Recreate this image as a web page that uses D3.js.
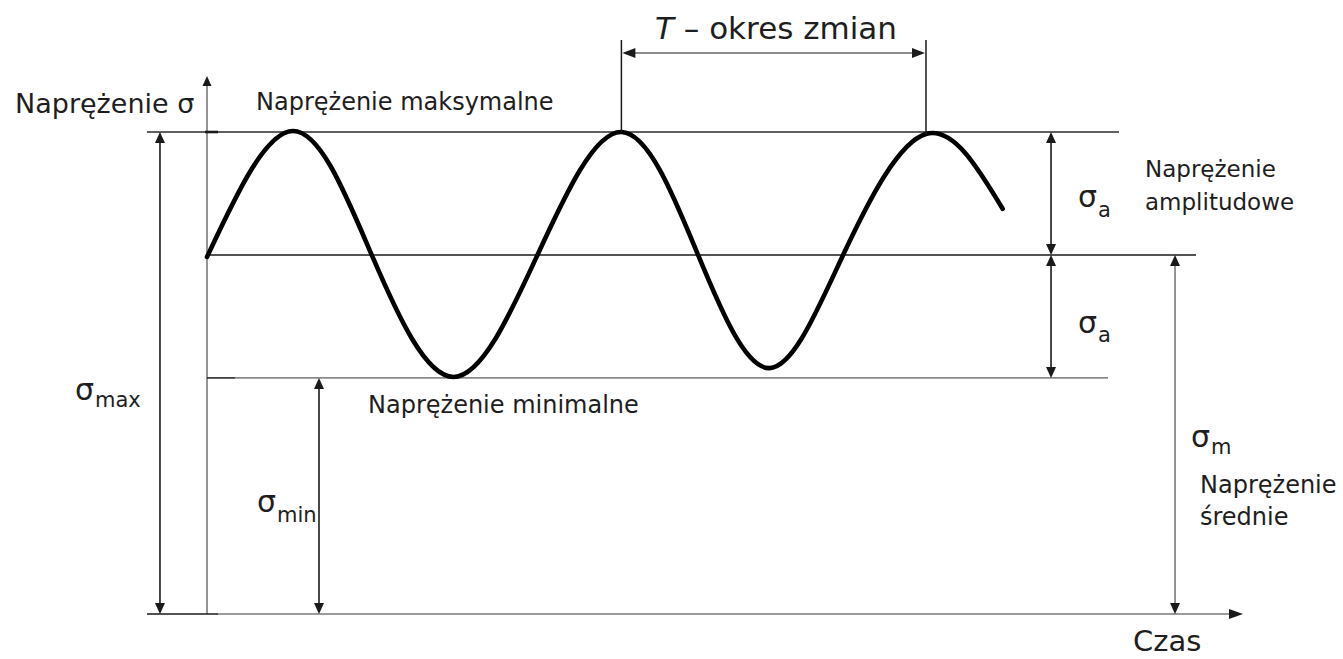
<!DOCTYPE html>
<html>
<head>
<meta charset="utf-8">
<script src="https://cdn.jsdelivr.net/npm/d3@7"></script>
<style>
  html, body { margin: 0; padding: 0; background: #fff; }
  svg { display: block; }
  text { font-family: "DejaVu Sans", Verdana, sans-serif; fill: #1e1e1e; }
</style>
</head>
<body>
<svg id="chart" width="1343" height="659"></svg>
<script>
// Stress levels of the cycle (same units as the stress axis)
const sigmaMax = 98;
const sigmaMean = 73;
const sigmaMin = 48;

// Stress history: time [s] and stress at the start, extremes, mean crossings and end
const curveTime = [0.00, 0.83, 1.59, 2.38, 3.19, 4.00, 4.74, 5.43, 6.14, 6.94, 7.68];
const curveStress = [72.6, 98.2, 73.0, 48.2, 73.0, 98.0, 73.0, 50.0, 73.0, 97.6, 82.4];

// One period, measured between two successive maxima
const periodStart = 4.00;
const periodEnd = 6.94;

// Texts
const axisStressLabel = "Naprężenie σ";
const axisTimeLabel = "Czas";
const periodLabel = " – okres zmian";
const maxLabel = "Naprężenie maksymalne";
const minLabel = "Naprężenie minimalne";
const ampLabel = ["Naprężenie", "amplitudowe"];
const meanLabel = ["Naprężenie", "średnie"];

const svg = d3.select("#chart");
const x = d3.scaleLinear().domain([0, 10]).range([207, 1243]);
const y = d3.scaleLinear().domain([0, sigmaMax]).range([614, 132]);

const BLACK = "#1a1a1a", GRAY = "#7a7a7a";

function hLine(x1, x2, yy, color, w) {
  svg.append("line").attr("x1", x1).attr("x2", x2).attr("y1", yy).attr("y2", yy)
    .attr("stroke", color).attr("stroke-width", w);
}
function vLine(xx, y1, y2, color, w) {
  svg.append("line").attr("x1", xx).attr("x2", xx).attr("y1", y1).attr("y2", y2)
    .attr("stroke", color).attr("stroke-width", w);
}
// filled arrow head, tip at (tx, ty), pointing in direction (dx, dy)
function head(tx, ty, dx, dy, len, half, color) {
  const px = -dy, py = dx;
  const bx = tx - dx * len, by = ty - dy * len;
  svg.append("path")
    .attr("d", `M${tx},${ty}L${bx + px * half},${by + py * half}L${bx - px * half},${by - py * half}Z`)
    .attr("fill", color);
}
function vArrow(xx, yTop, yBot, lineColor, headColor) {
  vLine(xx, yTop + 4, yBot - 4, lineColor, 1.6);
  head(xx, yTop, 0, -1, 11, 5, headColor);
  head(xx, yBot, 0, 1, 11, 5, headColor);
}

// axes
const y0 = y(0);
vLine(x(0), y0, 84, GRAY, 1.6);
head(x(0), 76, 0, -1, 10, 4.5, BLACK);
hLine(147, x(0) + 11, y0, BLACK, 1.6);
hLine(x(0) + 11, 1232, y0, GRAY, 1.6);
head(1243, y0, 1, 0, 14, 5, BLACK);

// reference levels
hLine(147, 1119, y(sigmaMax), "#2a2a2a", 1.5);
hLine(x(0) - 2, x(0) + 11, y(sigmaMax), BLACK, 2.6);
hLine(x(0), 1196, y(sigmaMean), BLACK, 1.5);
hLine(x(0), 235, y(sigmaMin), BLACK, 1.5);
hLine(235, 1108, y(sigmaMin), "#8a8a8a", 1.6);

// stress history
svg.append("path")
  .datum(curveTime.map((t, i) => [t, curveStress[i]]))
  .attr("fill", "none")
  .attr("stroke", "#000")
  .attr("stroke-width", 4.6)
  .attr("stroke-linecap", "round")
  .attr("stroke-linejoin", "round")
  .attr("d", d3.line().x(d => x(d[0])).y(d => y(d[1])).curve(d3.curveNatural));

// period dimension
const pA = x(periodStart), pB = x(periodEnd);
vLine(pA, 40, y(sigmaMax), BLACK, 1.5);
vLine(pB, 40, y(sigmaMax) + 2, BLACK, 1.5);
hLine(pA + 8, pB - 8, 53, "#666", 1.6);
head(pA + 1, 53, -1, 0, 13, 5, BLACK);
head(pB - 1, 53, 1, 0, 13, 5, BLACK);

// dimension arrows
vArrow(x(-0.454), y(sigmaMax), y0, BLACK, BLACK);
vArrow(x(1.081), y(sigmaMin), y0, BLACK, BLACK);
vArrow(x(8.147), y(sigmaMax), y(sigmaMean), BLACK, BLACK);
vArrow(x(8.147), y(sigmaMean), y(sigmaMin), BLACK, BLACK);
vArrow(x(9.344), y(sigmaMean), y0, GRAY, BLACK);

// labels
function label(tx, ty, str, size) {
  return svg.append("text").attr("x", tx).attr("y", ty).attr("font-size", size).text(str);
}
function sigma(tx, ty, sub, subDy) {
  const t = svg.append("text").attr("x", tx).attr("y", ty).attr("font-size", 30);
  t.append("tspan").text("σ");
  t.append("tspan").attr("font-size", 21).attr("dy", subDy).attr("dx", 1).text(sub);
}

label(15, 113, axisStressLabel, 27);
label(1133, 651, axisTimeLabel, 29);
label(256, 110, maxLabel, 24);
label(368, 413, minLabel, 24);
const per = svg.append("text").attr("x", 655).attr("y", 39).attr("font-size", 31);
per.append("tspan").attr("font-style", "italic").text("T");
per.append("tspan").text(periodLabel);

ampLabel.forEach((s, i) => label(1145, 177 + i * 33, s, 23));
meanLabel.forEach((s, i) => label(1200, 493 + i * 32, s, 24));

sigma(1078, 207, "a", 10);
sigma(1078, 333, "a", 9);
sigma(75, 400, "max", 7);
sigma(257, 512, "min", 10);
sigma(1191, 447, "m", 7);
</script>
</body>
</html>
